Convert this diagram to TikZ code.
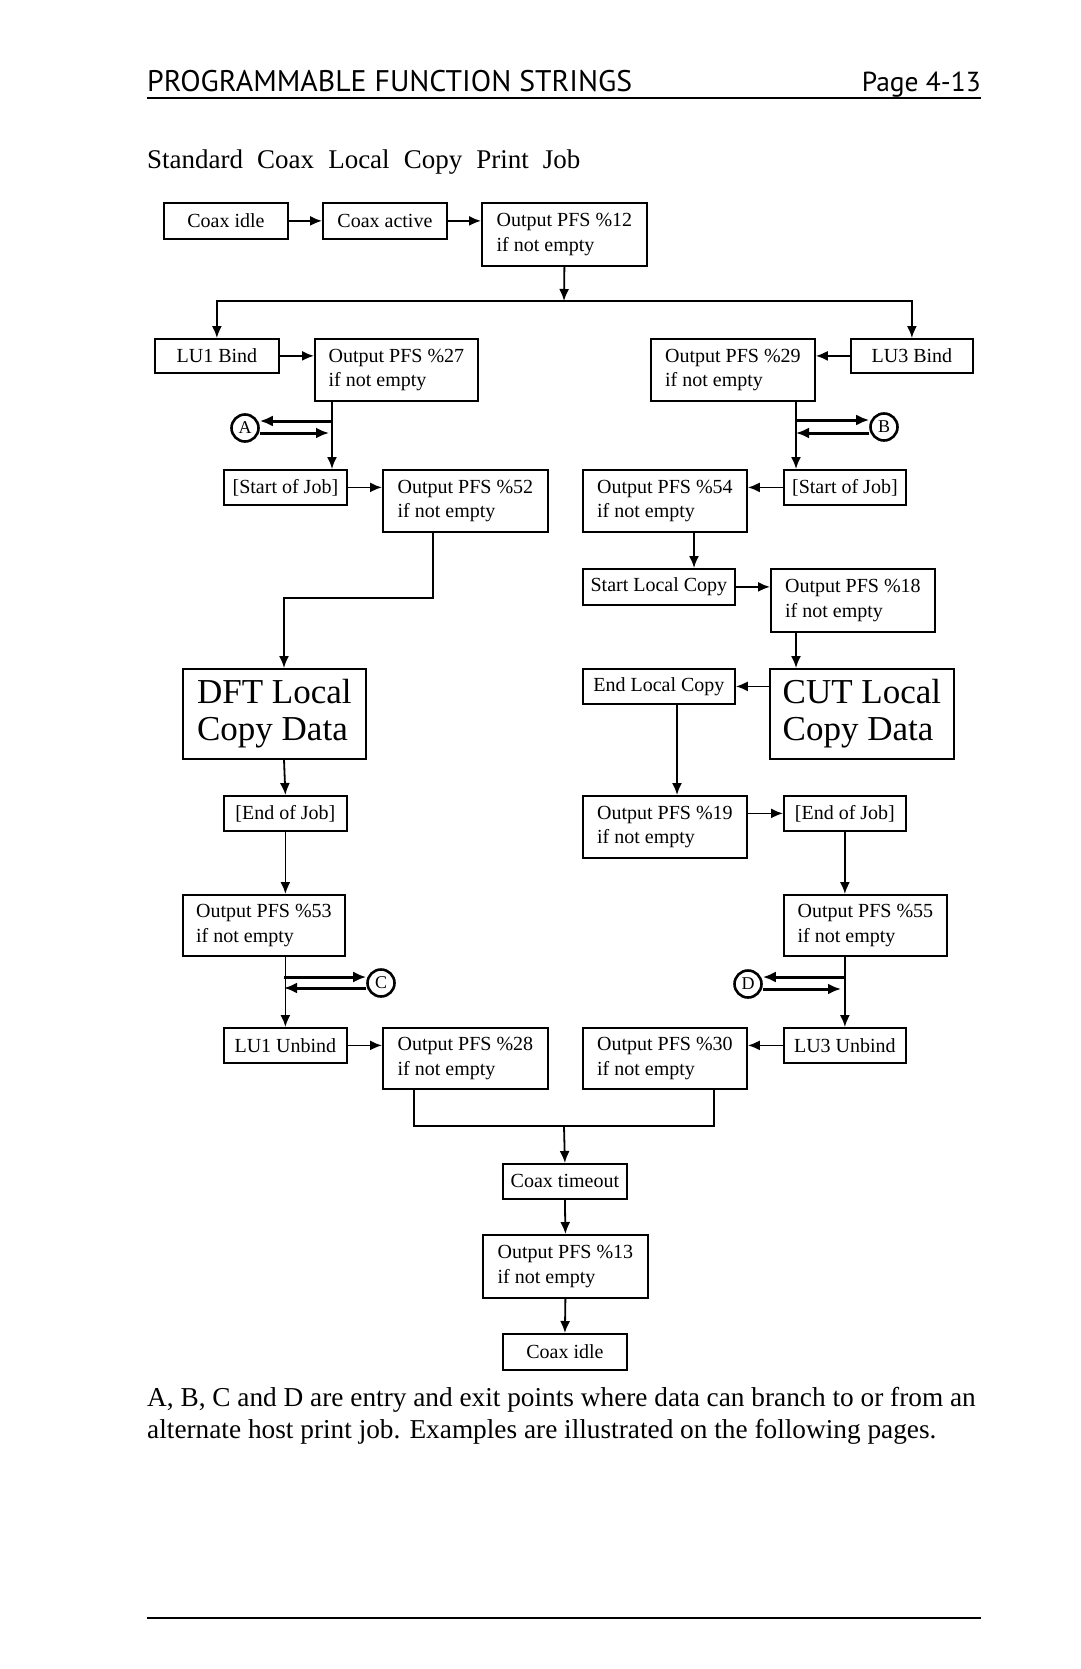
\documentclass[tikz,border=0pt]{standalone}
\usepackage{fontspec}
\setmainfont{Liberation Serif}
\newfontfamily\hdrfont{PT Sans}
\usetikzlibrary{arrows.meta}
\begin{document}
\begin{tikzpicture}[x=1pt,y=-1pt,
  box/.style={draw, line width=1.8pt, rectangle, anchor=north west, inner sep=0pt,
              font=\fontsize{20}{24.5}\selectfont, align=left},
  bigbox/.style={box, font=\fontsize{35}{37}\selectfont},
  arr/.style={line width=1.8pt, -{Latex[length=12pt,width=10pt]}},
  ln/.style={line width=1.8pt},
  thk/.style={line width=3pt, -{Latex[length=13pt,width=11pt]}},
  circ/.style={draw, circle, line width=2.6pt, minimum size=27pt, inner sep=0pt,
               font=\fontsize{18}{18}\selectfont},
  txt/.style={inner sep=0pt, font=\fontsize{27.3}{32}\selectfont}]
\useasboundingbox (0,0) rectangle (1080,1669);

% header
\node[anchor=base west, inner sep=0pt, font=\hdrfont\fontsize{29.8}{32}\selectfont] (hdr) at (147,92) {PROGRAMMABLE FUNCTION STRINGS};
\node[anchor=base east, inner sep=0pt, font=\hdrfont\fontsize{27.5}{32}\selectfont] (pg) at (981,92) {Page 4-13};
\draw[line width=1.4pt] (147,98) -- (981,98);
\node[txt, anchor=base west, font=\fontsize{27}{32}\selectfont] (title) at (147,169) {Standard\hspace{0.52em}Coax\hspace{0.52em}Local\hspace{0.52em}Copy\hspace{0.52em}Print\hspace{0.52em}Job};

% top row
\node[box, minimum width=124pt, minimum height=36pt] (idle) at (163,202) {Coax idle};
\node[box, minimum width=124pt, minimum height=36pt] (active) at (322,202) {Coax active};
\node[box, minimum width=165pt, minimum height=63pt] (p12) at (481,202) {Output PFS \%12\\if not empty};

% left column
\node[box, minimum width=124pt, minimum height=34pt] (lu1) at (154,338) {LU1 Bind};
\node[box, minimum width=163pt, minimum height=62pt] (p27) at (314,338) {Output PFS \%27\\if not empty};
\node[circ] (A) at (245,428) {A};
\node[box, minimum width=123pt, minimum height=35pt] (sojL) at (223,469) {[Start of Job]};
\node[box, minimum width=165pt, minimum height=62pt] (p52) at (382,469) {Output PFS \%52\\if not empty};
\node[bigbox, minimum width=183pt, minimum height=90pt] (dft) at (182,668) {DFT Local\\Copy Data};
\node[box, minimum width=123pt, minimum height=35pt] (eojL) at (223,795) {[End of Job]};
\node[box, minimum width=162pt, minimum height=61pt] (p53) at (182,894) {Output PFS \%53\\if not empty};
\node[circ] (C) at (381,983) {C};
\node[box, minimum width=123pt, minimum height=35pt] (lu1u) at (223,1027) {LU1 Unbind};
\node[box, minimum width=165pt, minimum height=61pt] (p28) at (382,1027) {Output PFS \%28\\if not empty};

% right column
\node[box, minimum width=164pt, minimum height=62pt] (p29) at (650,338) {Output PFS \%29\\if not empty};
\node[box, minimum width=122pt, minimum height=34pt] (lu3) at (850,338) {LU3 Bind};
\node[circ] (B) at (884,427) {B};
\node[box, minimum width=122pt, minimum height=35pt] (sojR) at (783,469) {[Start of Job]};
\node[box, minimum width=164pt, minimum height=62pt] (p54) at (582,469) {Output PFS \%54\\if not empty};
\node[box, minimum width=152pt, minimum height=36pt] (slc) at (582,568) {Start Local Copy};
\node[box, minimum width=164pt, minimum height=63pt] (p18) at (770,568) {Output PFS \%18\\if not empty};
\node[bigbox, minimum width=184pt, minimum height=90pt] (cut) at (769,668) {CUT Local\\Copy Data};
\node[box, minimum width=152pt, minimum height=35pt] (elc) at (582,668) {End Local Copy};
\node[box, minimum width=164pt, minimum height=62pt] (p19) at (582,795) {Output PFS \%19\\if not empty};
\node[box, minimum width=122pt, minimum height=35pt] (eojR) at (783,795) {[End of Job]};
\node[box, minimum width=163pt, minimum height=61pt] (p55) at (783,894) {Output PFS \%55\\if not empty};
\node[circ] (D) at (748,984) {D};
\node[box, minimum width=122pt, minimum height=35pt] (lu3u) at (783,1027) {LU3 Unbind};
\node[box, minimum width=164pt, minimum height=61pt] (p30) at (582,1027) {Output PFS \%30\\if not empty};

% bottom
\node[box, minimum width=124pt, minimum height=35pt] (tmo) at (502,1163) {Coax timeout};
\node[box, minimum width=165pt, minimum height=63pt] (p13) at (482,1234) {Output PFS \%13\\if not empty};
\node[box, minimum width=124pt, minimum height=36pt] (idle2) at (502,1333) {Coax idle};

% helper coordinates
\coordinate (split) at (564,301);
\coordinate (xa) at (332,0);
\coordinate (a1) at (332,421);
\coordinate (a2) at (329,433);
\coordinate (xb) at (433,0);
\coordinate (bendL) at (284,598);
\coordinate (c1) at (284,977);
\coordinate (c2) at (284,988);
\coordinate (xr) at (796,0);
\coordinate (b1) at (796,420);
\coordinate (b2) at (796,433);
\coordinate (xs) at (694,0);
\coordinate (xe) at (677,0);
\coordinate (d1) at (844,977);
\coordinate (d2) at (841,989);
\coordinate (mL) at (414,1126);
\coordinate (mR) at (714,1126);
\coordinate (mC) at (564,1126);

% connectors top
\draw[arr] (idle.east) -- (active.west);
\draw[arr] (active.east) -- (active.east -| p12.west);
\draw[arr] (p12.south) -- (split);
\draw[arr] (split) -| (lu1.north);
\draw[arr] (split) -| (lu3.north);

% left connectors
\draw[arr] (lu1.east) -- (lu1.east -| p27.west);
\draw[arr] (p27.south -| xa) -- (sojL.north -| xa);
\draw[thk] (a1) -- (a1 -| A.east);
\draw[thk] (a2 -| A.east) -- (a2);
\draw[arr] (sojL.east) -- (sojL.east -| p52.west);
\draw[arr] (p52.south -| xb) |- (bendL) -- (dft.north -| bendL);
\draw[arr] (dft.south -| bendL) -- (eojL.north);
\draw[arr] (eojL.south) -- (p53.north -| eojL.south);
\draw[arr] (p53.south -| lu1u.north) -- (lu1u.north);
\draw[thk] (c1) -- (c1 -| C.west);
\draw[thk] (c2 -| C.west) -- (c2);
\draw[arr] (lu1u.east) -- (lu1u.east -| p28.west);

% right connectors
\draw[arr] (lu3.west) -- (lu3.west -| p29.east);
\draw[arr] (p29.south -| xr) -- (sojR.north -| xr);
\draw[thk] (b1) -- (b1 -| B.west);
\draw[thk] (b2 -| B.west) -- (b2);
\draw[arr] (sojR.west) -- (sojR.west -| p54.east);
\draw[arr] (p54.south -| xs) -- (slc.north -| xs);
\draw[arr] (slc.east) -- (slc.east -| p18.west);
\draw[arr] (p18.south -| xr) -- (cut.north -| xr);
\draw[arr] (cut.west |- elc.east) -- (elc.east);
\draw[arr] (elc.south -| xe) -- (p19.north -| xe);
\draw[arr] (p19.east |- eojR.west) -- (eojR.west);
\draw[arr] (eojR.south) -- (p55.north -| eojR.south);
\draw[arr] (p55.south -| lu3u.north) -- (lu3u.north);
\draw[thk] (d1) -- (d1 -| D.east);
\draw[thk] (d2 -| D.east) -- (d2);
\draw[arr] (lu3u.west) -- (lu3u.west -| p30.east);

% merge
\draw[ln] (p28.south -| mL) -- (mL) -- (mR) -- (p30.south -| mR);
\draw[arr] (mC) -- (tmo.north);
\draw[arr] (tmo.south) -- (p13.north);
\draw[arr] (p13.south) -- (idle2.north);

% footnote
\node[txt, anchor=base west] (f1) at (147,1406) {A, B, C and D are entry and exit points where data can branch to or from an};
\node[txt, anchor=base west] (f2) at (147,1438) {alternate host print job. Examples are illustrated on the following pages.};
\draw[line width=1.4pt] (147,1618) -- (981,1618);
\end{tikzpicture}
\end{document}
